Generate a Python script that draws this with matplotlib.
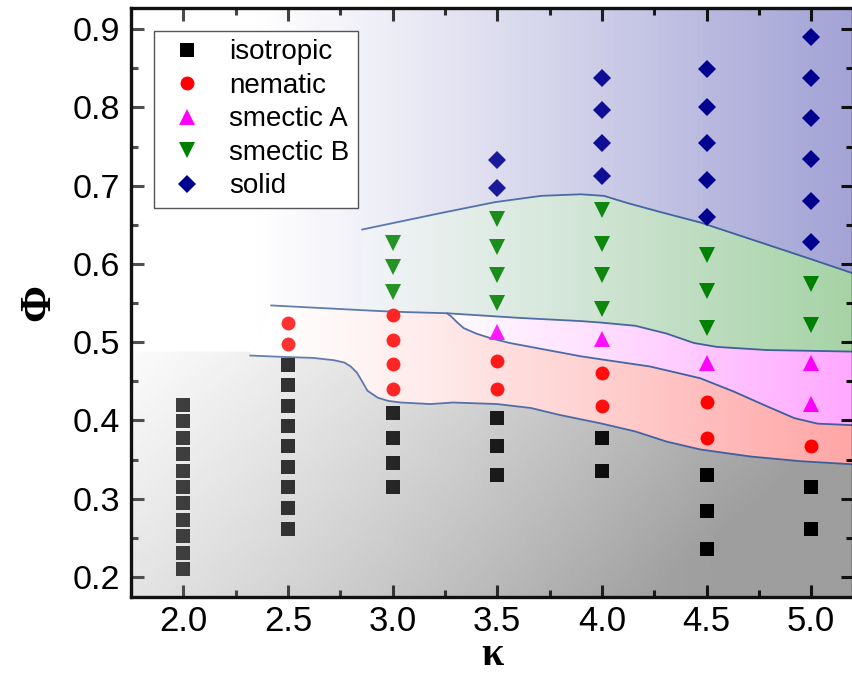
import numpy as np
import matplotlib
matplotlib.use("Agg")
import matplotlib.pyplot as plt
from matplotlib.patches import Polygon
from matplotlib.colors import to_rgb

plt.rcParams['font.family'] = ['Liberation Sans', 'DejaVu Sans']

# ---- phase points (kappa, phi) ----
iso_k = [2.0] * 11 + [2.5] * 9 + [3.0] * 4 + [3.5] * 3 + [4.0] * 2 + [4.5] * 3 + [5.0] * 2
iso_phi = [0.420, 0.399, 0.378, 0.357, 0.336, 0.315, 0.294, 0.273, 0.252, 0.231, 0.210,
           0.471, 0.445, 0.419, 0.393, 0.367, 0.341, 0.315, 0.288, 0.262,
           0.409, 0.377, 0.346, 0.315,
           0.403, 0.367, 0.330,
           0.377, 0.335,
           0.330, 0.284, 0.236,
           0.315, 0.262]

nem_k = [2.5, 2.5, 3.0, 3.0, 3.0, 3.0, 3.5, 3.5, 4.0, 4.0, 4.5, 4.5, 5.0]
nem_phi = [0.524, 0.498, 0.535, 0.503, 0.472, 0.440, 0.476, 0.440, 0.461, 0.419, 0.424, 0.377, 0.367]

smA_k = [3.5, 4.0, 4.5, 5.0, 5.0]
smA_phi = [0.513, 0.504, 0.473, 0.473, 0.421]

smB_k = [3.0, 3.0, 3.0, 3.5, 3.5, 3.5, 3.5, 4.0, 4.0, 4.0, 4.0, 4.5, 4.5, 4.5, 5.0, 5.0]
smB_phi = [0.627, 0.596, 0.564, 0.658, 0.622, 0.586, 0.550, 0.669, 0.626, 0.586, 0.543,
           0.611, 0.565, 0.518, 0.575, 0.522]

sol_k = [3.5, 3.5, 4.0, 4.0, 4.0, 4.0, 4.5, 4.5, 4.5, 4.5, 4.5, 5.0, 5.0, 5.0, 5.0, 5.0, 5.0]
sol_phi = [0.733, 0.697, 0.838, 0.797, 0.754, 0.713, 0.849, 0.801, 0.754, 0.707, 0.660,
           0.890, 0.838, 0.786, 0.734, 0.681, 0.628]

# ---- phase boundaries ----
# isotropic | nematic
b1_k = [2.32, 2.50, 2.62, 2.72, 2.77, 2.80, 2.83, 2.85, 2.88, 2.93, 2.98, 3.04, 3.18, 3.29,
        3.50, 3.66, 3.80, 4.00, 4.16, 4.31, 4.47, 4.71, 4.95, 5.20]
b1_phi = [0.483, 0.481, 0.480, 0.477, 0.474, 0.469, 0.461, 0.452, 0.438, 0.429, 0.425, 0.423,
          0.421, 0.423, 0.421, 0.416, 0.407, 0.396, 0.386, 0.373, 0.363, 0.354, 0.348, 0.344]

# nematic | smectic B, then smectic A | smectic B
b2_k = [2.42, 2.85, 3.00, 3.26, 3.61, 3.90, 4.00, 4.16, 4.31, 4.44, 4.55, 4.79, 5.00, 5.20]
b2_phi = [0.547, 0.541, 0.539, 0.537, 0.531, 0.527, 0.525, 0.521, 0.511, 0.499, 0.494,
          0.490, 0.489, 0.488]

# nematic | smectic A
b3_k = [3.26, 3.28, 3.31, 3.34, 3.40, 3.47, 3.56, 3.66, 3.90, 4.00, 4.23, 4.47, 4.63, 4.79,
        4.92, 5.03, 5.20]
b3_phi = [0.537, 0.533, 0.525, 0.518, 0.511, 0.505, 0.499, 0.494, 0.482, 0.478, 0.469, 0.454,
          0.437, 0.418, 0.403, 0.396, 0.394]

# smectic B | solid
b4_k = [2.855, 3.23, 3.49, 3.71, 3.90, 4.01, 4.12, 4.27, 4.47, 4.99, 5.20]
b4_phi = [0.644, 0.665, 0.679, 0.687, 0.689, 0.687, 0.678, 0.667, 0.653, 0.607, 0.588]

iso_top = 0.488   # flat top of the grey area at small kappa

XMIN, XMAX = 1.75, 5.2
YMIN, YMAX = 0.1745, 0.927

fig = plt.figure(figsize=(8.52, 6.79), dpi=100)
ax = fig.add_axes([131 / 852, 1 - 597 / 679, 722 / 852, 589 / 679])
ax.set_xlim(XMIN, XMAX)
ax.set_ylim(YMIN, YMAX)


def gradient(c0, c1, x0, x1, diag=0.0, n=300):
    xs = np.linspace(XMIN, XMAX, n)
    ys = np.linspace(YMIN, YMAX, n)
    X, Y = np.meshgrid(xs, ys)
    t = (X - x0) / (x1 - x0) + diag * (0.49 - Y) / 0.315
    t = np.clip(t, 0, 1)[..., None]
    c0 = np.array(to_rgb(c0))
    c1 = np.array(to_rgb(c1))
    return c0 + (c1 - c0) * t


def shade(verts, img, z):
    patch = Polygon(verts, closed=True, facecolor='none', edgecolor='none')
    ax.add_patch(patch)
    im = ax.imshow(img, extent=[XMIN, XMAX, YMIN, YMAX], origin='lower',
                   aspect='auto', interpolation='bilinear', zorder=z)
    im.set_clip_path(patch)


# solid (background everywhere)
ax.imshow(gradient('#ffffff', '#a3a3d6', 2.35, 5.2), extent=[XMIN, XMAX, YMIN, YMAX],
          origin='lower', aspect='auto', interpolation='bilinear', zorder=0)

# isotropic
v = [(XMIN, YMIN), (XMIN, iso_top), (b1_k[0], iso_top)]
v += list(zip(b1_k, b1_phi)) + [(XMAX, YMIN)]
shade(v, gradient('#fbfbfb', '#9e9e9e', 1.75, 5.6, diag=0.35), 0.5)

# nematic
j = b2_k.index(3.26)
upper = list(zip(b2_k[:j], b2_phi[:j])) + list(zip(b3_k, b3_phi))
v = upper + list(zip(b1_k, b1_phi))[::-1]
shade(v, gradient('#ffffff', '#ffa6a6', 2.45, 5.2), 0.5)

# smectic A
v = list(zip(b2_k[j:], b2_phi[j:])) + list(zip(b3_k, b3_phi))[::-1]
shade(v, gradient('#ffffff', '#ffa8ff', 3.2, 5.2), 0.5)

# smectic B
i = b2_k.index(2.85)
v = list(zip(b4_k, b4_phi)) + list(zip(b2_k[i:], b2_phi[i:]))[::-1]
shade(v, gradient('#f0f2f8', '#a6d3a6', 2.85, 5.2), 0.5)

# boundaries
lc = '#3d5f9c'
for bk, bp in [(b1_k, b1_phi), (b2_k, b2_phi), (b3_k, b3_phi), (b4_k, b4_phi)]:
    ax.plot(bk, bp, color=lc, lw=1.3, zorder=2, solid_joinstyle='round')

ax.plot(iso_k, iso_phi, ls='none', marker='s', ms=9.4, color='black', mew=0,
        label='isotropic', zorder=3)
ax.plot(nem_k, nem_phi, ls='none', marker='o', ms=10, color='red', mew=0,
        label='nematic', zorder=3)
ax.plot(smA_k, smA_phi, ls='none', marker='^', ms=12, color='magenta', mew=0,
        label='smectic A', zorder=3)
ax.plot(smB_k, smB_phi, ls='none', marker='v', ms=12, color='green', mew=0,
        label='smectic B', zorder=3)
ax.plot(sol_k, sol_phi, ls='none', marker='D', ms=8.8, color='#000090', mew=0,
        label='solid', zorder=3)

# faded left side
xs = np.linspace(XMIN, XMAX, 300)
a = np.clip(0.27 * (1 - (xs - XMIN) / 2.9), 0, 1)
over = np.ones((2, 300, 4))
over[..., 3] = a
ax.imshow(over, extent=[XMIN, XMAX, YMIN, YMAX], origin='lower', aspect='auto',
          interpolation='bilinear', zorder=4)

ax.set_xticks(np.arange(2.0, 5.01, 0.5))
ax.set_xticks(np.arange(1.75, 5.21, 0.25), minor=True)
ax.set_yticks(np.arange(0.2, 0.91, 0.1))
ax.set_yticks(np.arange(0.2, 0.921, 0.05), minor=True)
ax.tick_params(which='both', direction='in', top=True, right=True, width=2.2, color='#111111')
ax.tick_params(which='major', length=9)
ax.tick_params(which='minor', length=5)
ax.tick_params(axis='x', labelsize=25, pad=6)
ax.tick_params(axis='y', labelsize=24.5, pad=8)
for s in ax.spines.values():
    s.set_linewidth(2.4)
    s.set_color('#111111')
    s.set_zorder(6)

ax.set_xlabel('κ', fontsize=29, fontweight='bold', family='Liberation Serif', labelpad=-1)
ax.set_ylabel('Φ', fontsize=32, fontweight='bold', family='Liberation Serif', labelpad=10)

leg = ax.legend(loc='upper left', bbox_to_anchor=(0.032, 0.961), fontsize=20,
                fancybox=False, framealpha=1, edgecolor='#555555', borderpad=0.3,
                handlelength=1.8, handletextpad=0.6, labelspacing=0.27,
                borderaxespad=0)
leg.get_frame().set_linewidth(1.0)
leg.set_zorder(7)

fig.savefig('out.png', dpi=100)
